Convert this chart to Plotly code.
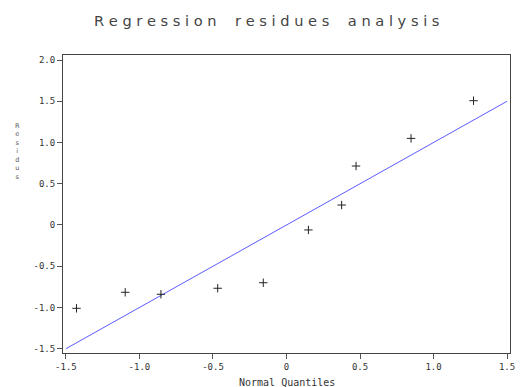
import plotly.graph_objects as go

# Data
normal_quantiles = [-1.428, -1.097, -0.854, -0.468, -0.158, 0.149, 0.375, 0.473, 0.847, 1.272]
residuals = [-1.01, -0.816, -0.84, -0.767, -0.70, -0.06, 0.242, 0.715, 1.05, 1.507]
ref_line_x = [-1.5, 1.5]
ref_line_y = [-1.5, 1.5]

x_ticks = [-1.5, -1.0, -0.5, 0, 0.5, 1.0, 1.5]
x_ticklabels = ["-1.5", "-1.0", "-0.5", "0", "0.5", "1.0", "1.5"]
y_ticks = [-1.5, -1.0, -0.5, 0, 0.5, 1.0, 1.5, 2.0]
y_ticklabels = ["-1.5", "-1.0", "-0.5", "0", "0.5", "1.0", "1.5", "2.0"]

title_text = "Regression residues analysis"
x_title = "Normal Quantiles"
y_title = "Residus"

W, H = 520, 387
L, R, T, B = 63, 5, 55, 34

fig = go.Figure()
fig.add_trace(go.Scatter(
    x=ref_line_x, y=ref_line_y, mode="lines",
    line=dict(color="#5c5cff", width=1), showlegend=False, hoverinfo="skip"))
fig.add_trace(go.Scatter(
    x=normal_quantiles, y=residuals, mode="markers",
    marker=dict(symbol="cross-thin", size=6, line=dict(color="#222222", width=1)),
    showlegend=False))

tick_font = dict(family="DejaVu Sans Mono", size=9, color="#333333")

fig.update_layout(
    width=W, height=H,
    margin=dict(l=L, r=R, t=T, b=B),
    paper_bgcolor="white", plot_bgcolor="white",
    xaxis=dict(range=[-1.52, 1.52], tickvals=x_ticks, ticktext=x_ticklabels,
               ticks="outside", ticklen=5, tickcolor="#555555",
               ticklabeloverflow="allow",
               showline=True, linecolor="#444444", linewidth=1, mirror=True,
               showgrid=False, zeroline=False, tickfont=tick_font),
    yaxis=dict(range=[-1.552, 2.061], tickvals=y_ticks, ticktext=y_ticklabels,
               ticks="outside", ticklen=5, tickcolor="#555555",
               showline=True, linecolor="#444444", linewidth=1, mirror=True,
               showgrid=False, zeroline=False, tickfont=tick_font),
    annotations=[
        dict(text=" ".join(list(title_text)).replace("   ", "    "),
             xref="paper", yref="paper", x=(269 - L) / (W - L - R), y=1,
             yshift=35, xanchor="center", yanchor="middle", showarrow=False,
             font=dict(family="Liberation Sans Narrow, DejaVu Sans", size=14.6, color="#444444")),
        dict(text=x_title,
             xref="paper", yref="paper", x=0.5, y=0, yshift=-29,
             xanchor="center", yanchor="middle", showarrow=False,
             font=dict(family="DejaVu Sans Mono", size=10, color="#333333")),
        dict(text="<br>".join(list(y_title)),
             xref="paper", yref="paper", x=0, xshift=-(L - 17),
             y=(H - B - 151) / (H - T - B),
             xanchor="center", yanchor="middle", showarrow=False,
             font=dict(family="DejaVu Sans", size=6.5, color="#555555")),
    ],
)

fig.write_html(
    "out.html",
    config={"displayModeBar": False},
    post_script="document.body.style.margin='0';document.body.style.overflow='hidden';",
)
